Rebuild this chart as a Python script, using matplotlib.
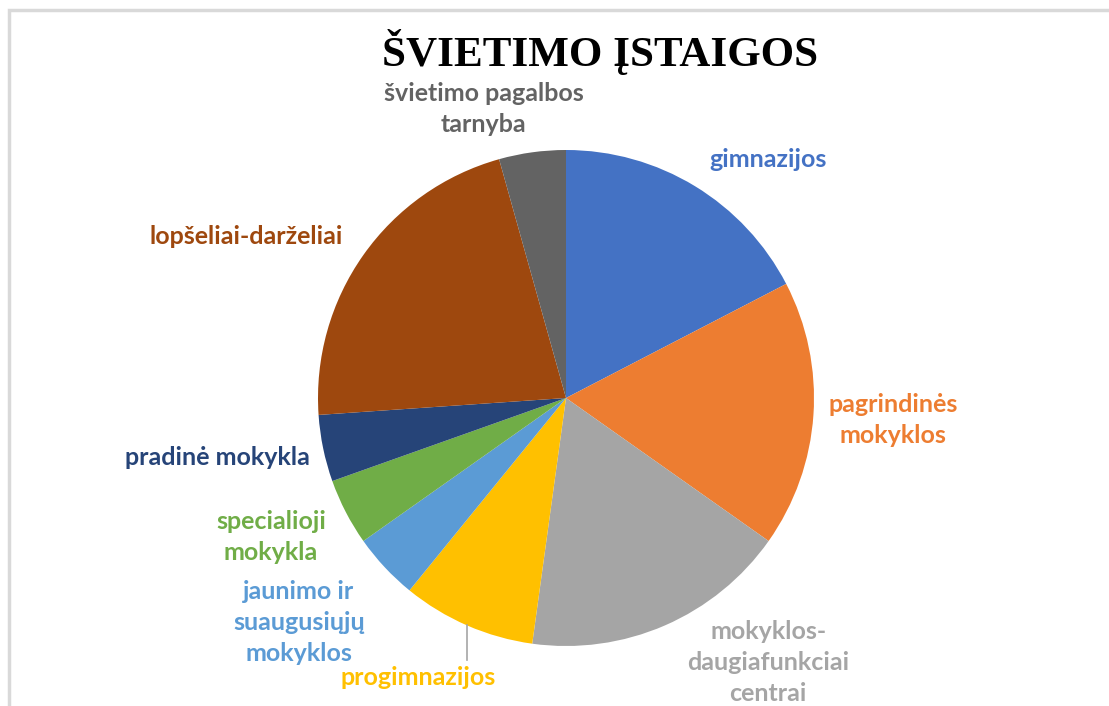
import numpy as np
import matplotlib
matplotlib.use("Agg")
import matplotlib.pyplot as plt
from matplotlib.patches import Rectangle

# data: slices listed clockwise from 12 o'clock
labels = [
    "gimnazijos",
    "pagrindinės\nmokyklos",
    "mokyklos-\ndaugiafunkciai\ncentrai",
    "progimnazijos",
    "jaunimo ir\nsuaugusiųjų\nmokyklos",
    "specialioji\nmokykla",
    "pradinė mokykla",
    "lopšeliai-darželiai",
    "švietimo pagalbos\ntarnyba",
]
counts = [4, 4, 4, 2, 1, 1, 1, 5, 1]
colors = ["#4472C4", "#ED7D31", "#A5A5A5", "#FFC000", "#5B9BD5",
          "#70AD47", "#264478", "#9E480E", "#636363"]

# label centres in pie units (radius = 1)
label_pos = [(0.815, 0.960), (1.319, -0.089), (0.815, -1.065), (-0.597, -1.129),
             (-1.077, -0.907), (-1.190, -0.560), (-1.407, -0.238), (-1.290, 0.653),
             (-0.331, 1.165)]

W, H = 1109, 706
fig = plt.figure(figsize=(W / 100, H / 100), dpi=100, facecolor="white")

# chart area border (cut by the image on the right and bottom)
fig.patches.append(Rectangle((9 / W, -0.1), 1.2, 1 - 10 / H + 0.1, transform=fig.transFigure,
                             fill=False, edgecolor="#D9D9D9", linewidth=2.5))

cx, cy, r = 566, 398, 248
ax = fig.add_axes([(cx - r) / W, (H - cy - r) / H, 2 * r / W, 2 * r / H])
wedges, _ = ax.pie(counts, colors=colors, startangle=90, counterclock=False,
                   radius=1, wedgeprops=dict(linewidth=0))
ax.set_xlim(-1, 1)
ax.set_ylim(-1, 1)
ax.set_aspect("equal")
ax.axis("off")

for lab, (lx, ly), col in zip(labels, label_pos, colors):
    ax.text(lx, ly, lab, ha="center", va="center", color=col, fontsize=18,
            fontweight="bold", family="Lato", linespacing=1.42, clip_on=False)

# leader line for progimnazijos
w = wedges[3]
mid = np.deg2rad((w.theta1 + w.theta2) / 2)
x0, y0 = np.cos(mid), np.sin(mid)
ax.plot([x0, x0], [y0, -1.056], color="#A6A6A6", linewidth=1.2, clip_on=False)

fig.text(600 / W, 1 - 52 / H, "ŠVIETIMO ĮSTAIGOS", ha="center", va="center",
         fontsize=31, fontweight="bold", family="Liberation Serif", color="black")

fig.savefig("out.png", dpi=100, facecolor="white")
